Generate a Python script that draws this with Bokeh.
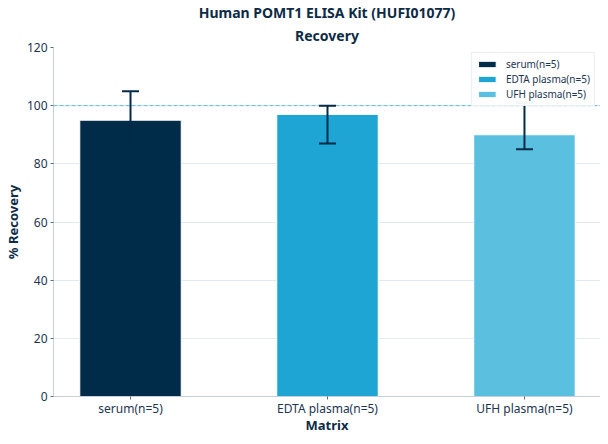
from bokeh.plotting import figure
from bokeh.models import ColumnDataSource, Whisker, Span, FixedTicker, TeeHead, Range1d, Title
from bokeh.embed import file_html
from bokeh.resources import INLINE

categories = ["serum(n=5)", "EDTA plasma(n=5)", "UFH plasma(n=5)"]
recovery = [95, 97, 90]
err_low = [85, 87, 85]
err_high = [105, 100, 101]
colors = ["#002b49", "#1fa5d4", "#5bbfe0"]
y_ticks = [0, 20, 40, 60, 80, 100, 120]
reference_level = 100
title_lines = ["Human POMT1 ELISA Kit (HUFI01077)", "Recovery"]
x_title = "Matrix"
y_title = "% Recovery"

FONT = "Noto Sans"
NAVY = "#002b49"
TEXT = "#0d2b45"

xs = list(range(len(categories)))
src = ColumnDataSource(dict(x=xs, top=recovery, lower=err_low, upper=err_high,
                            color=colors, label=categories))

p = figure(width=600, height=436, output_backend="svg", toolbar_location=None,
           x_range=Range1d(-0.391, len(categories) - 1 + 0.386), y_range=Range1d(0, 120),
           min_border_left=0, min_border_right=0, min_border_bottom=0, min_border_top=0)
p.title.visible = False
for i, line in enumerate(reversed(title_lines)):
    t = Title(text=line, align="center", text_font=FONT, text_font_size="14px",
              text_font_style="bold", text_color=TEXT, standoff=5 if i == 0 else 0)
    p.add_layout(t, "above")

p.vbar(x="x", top="top", width=0.515, fill_color="color", line_color="white",
       line_width=1, source=src, legend_field="label")

w = Whisker(base="x", upper="upper", lower="lower", source=src, line_color=NAVY, line_width=2,
            upper_head=TeeHead(size=17, line_color=NAVY, line_width=2),
            lower_head=TeeHead(size=17, line_color=NAVY, line_width=2), level="overlay")
p.add_layout(w)

p.add_layout(Span(location=reference_level, dimension="width", line_color="#5bc0de",
                  line_dash="4 2", line_width=1))

p.xaxis.ticker = FixedTicker(ticks=xs)
p.xaxis.major_label_overrides = {i: c for i, c in enumerate(categories)}
p.yaxis.ticker = FixedTicker(ticks=y_ticks)
p.xaxis.axis_label = x_title
p.yaxis.axis_label = y_title
for ax in (p.xaxis, p.yaxis):
    ax.axis_label_text_font = FONT
    ax.axis_label_text_font_style = "bold"
    ax.axis_label_text_font_size = "13px"
    ax.axis_label_text_color = TEXT
    ax.major_label_text_font = FONT
    ax.major_label_text_font_size = "12px"
    ax.major_label_text_color = "#1c3550"
    ax.axis_line_color = "#c5d0da"
    ax.major_tick_line_color = "#5a6d80"
    ax.major_tick_in = 0
    ax.major_tick_out = 3
    ax.minor_tick_line_color = None
p.xaxis.major_label_standoff = 0
p.xaxis.axis_label_standoff = -4
p.yaxis.axis_label_standoff = 2
p.yaxis.major_label_standoff = 3

p.xgrid.grid_line_color = None
p.ygrid.grid_line_color = "#e3e9ef"
p.outline_line_color = None

p.legend.location = "top_right"
p.legend.label_text_font = FONT
p.legend.label_text_font_size = "10px"
p.legend.label_text_color = "#1c3550"
p.legend.border_line_color = "#d5dde5"
p.legend.glyph_width = 22
p.legend.glyph_height = 8
p.legend.label_height = 11
p.legend.spacing = 1
p.legend.padding = 4
p.legend.margin = 5
p.legend.label_standoff = 8

open("out.html", "w").write(file_html(p, INLINE))
